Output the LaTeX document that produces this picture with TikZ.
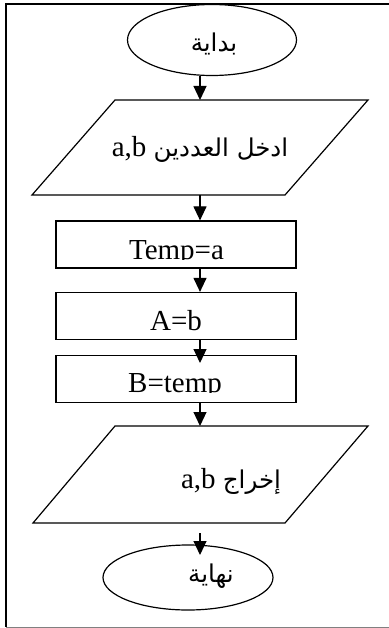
\documentclass[tikz,border=0pt]{standalone}
\usepackage{fontspec}
\setmainfont{Liberation Serif}
\newfontfamily\arabicfont[Script=Arabic]{DejaVu Sans}
\TeXXeTstate=1
\usetikzlibrary{arrows.meta,shapes.geometric}

\newcommand\arabsize{\fontsize{24.5}{26}\selectfont}

\begin{document}
\begin{tikzpicture}[x=1pt,y=-1pt,
    line width=1.2pt,
    flow/.style={-{Triangle[width=13pt,length=14pt]}},
    terminal/.style={draw,ellipse,inner sep=0pt},
    procbox/.style={draw,rectangle,inner sep=0pt,minimum width=240pt,minimum height=47pt},
    latin/.style={font=\fontsize{29}{31}\selectfont,inner sep=0pt,anchor=base},
    arab/.style={font=\arabicfont\arabsize,inner sep=0pt,anchor=base}]
  \useasboundingbox (0,0) rectangle (388,628);

  % page frame (runs off to the right)
  \draw[line width=1.3pt] (400,4) -- (6,4) -- (6,627);
  \draw[line width=1pt,gray] (6,627) -- (400,627);

  % start
  \node[terminal,minimum width=169pt,minimum height=71pt] (start) at (212,40) {};
  \node[arab] (startlbl) at (214,52) {\beginR بداية\endR};

  % input parallelogram
  \coordinate (in-tl) at (115,100);
  \coordinate (in-tr) at (368,100);
  \coordinate (in-br) at (285,195);
  \coordinate (in-bl) at (32,195);
  \coordinate (in-n) at (200,100);
  \coordinate (in-s) at (200,195);
  \draw (in-tl) -- (in-tr) -- (in-br) -- (in-bl) -- cycle;
  \node[latin] (inlbl) at (200,157)
    {\beginR{\arabicfont\arabsize ادخل العددين} \beginL a,b\endL\endR};

  % assignments
  \node[procbox] (s1) at (176,244.5) {};
  \node[procbox] (s2) at (176,316) {};
  \node[procbox] (s3) at (176,379) {};
  \begin{scope}
    \clip (56,221) rectangle (296,259);
    \node[latin] (s1lbl) at (176.5,259.5) {Temp=a};
  \end{scope}
  \node[latin] (s2lbl) at (176,330) {A=b};
  \begin{scope}
    \clip (56,355) rectangle (296,392);
    \node[latin] (s3lbl) at (175,392.5) {B=temp};
  \end{scope}

  % output parallelogram
  \coordinate (out-tl) at (115,426);
  \coordinate (out-tr) at (368,426);
  \coordinate (out-br) at (285,523);
  \coordinate (out-bl) at (33,523);
  \coordinate (out-n) at (200,426);
  \coordinate (out-s) at (200,523);
  \draw (out-tl) -- (out-tr) -- (out-br) -- (out-bl) -- cycle;
  \node[latin] (outlbl) at (231,488)
    {\beginR{\arabicfont\arabsize إخراج} \beginL a,b\endL\endR};

  % end
  \node[terminal,minimum width=170pt,minimum height=65pt] (stop) at (188,577.5) {};
  \node[arab] (stoplbl) at (211,582) {\beginR نهاية\endR};

  % connectors
  \coordinate (a6from) at (200,533);
  \coordinate (a6to) at (200,555);
  \coordinate (a4to) at (200,363);
  \draw[flow] (start.south -| in-n) -- (in-n);
  \draw[flow] (in-s) -- (in-s |- s1.north);
  \draw[flow] (in-s |- s1.south) -- (in-s |- s2.north);
  \draw[flow] (in-s |- s2.south) -- (a4to);
  \draw[flow] (in-s |- s3.south) -- (out-n);
  \draw[flow] (a6from) -- (a6to);
\end{tikzpicture}
\end{document}
